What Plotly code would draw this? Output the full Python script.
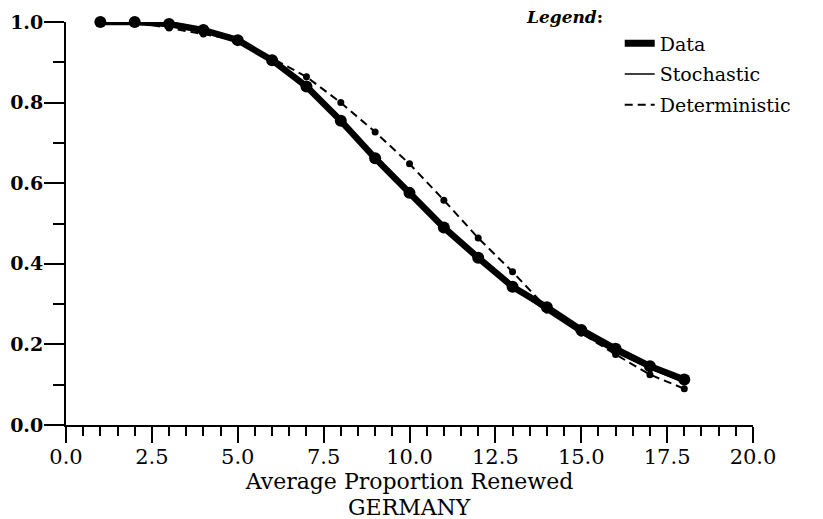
import plotly.graph_objects as go

x_vals = [1, 2, 3, 4, 5, 6, 7, 8, 9, 10, 11, 12, 13, 14, 15, 16, 17, 18]
data_y = [1.0, 1.0, 0.995, 0.98, 0.955, 0.905, 0.84, 0.755, 0.662, 0.576, 0.49, 0.415, 0.343, 0.292, 0.236, 0.189, 0.146, 0.113]
stoch_y = [1.0, 0.998, 0.99, 0.975, 0.952, 0.903, 0.836, 0.75, 0.658, 0.57, 0.488, 0.414, 0.34, 0.282, 0.226, 0.18, 0.14, 0.105]
determ_y = [1.0, 1.0, 0.985, 0.97, 0.955, 0.91, 0.864, 0.8, 0.727, 0.648, 0.558, 0.464, 0.38, 0.29, 0.228, 0.175, 0.125, 0.09]

x_ticks = [0.0, 2.5, 5.0, 7.5, 10.0, 12.5, 15.0, 17.5, 20.0]
x_tick_labels = ["0.0", "2.5", "5.0", "7.5", "10.0", "12.5", "15.0", "17.5", "20.0"]
y_ticks = [0.0, 0.2, 0.4, 0.6, 0.8, 1.0]
y_tick_labels = ["0.0", "0.2", "0.4", "0.6", "0.8", "1.0"]

FONT = "DejaVu Serif"

fig = go.Figure()
fig.add_trace(go.Scatter(x=x_vals, y=determ_y, mode="lines+markers",
                         line=dict(color="black", width=2, dash="8px,5px"),
                         marker=dict(color="black", size=7), showlegend=False, cliponaxis=False))
fig.add_trace(go.Scatter(x=x_vals, y=stoch_y, mode="lines+markers",
                         line=dict(color="black", width=1.5),
                         marker=dict(color="black", size=5), showlegend=False, cliponaxis=False))
fig.add_trace(go.Scatter(x=x_vals, y=data_y, mode="lines+markers",
                         line=dict(color="black", width=6.5),
                         marker=dict(color="black", size=12), showlegend=False, cliponaxis=False))

# legend entries (lines only)
fig.add_trace(go.Scatter(x=[None], y=[None], mode="lines", name="Data",
                         line=dict(color="black", width=7), legendgroup="a"))
fig.add_trace(go.Scatter(x=[None], y=[None], mode="lines", name="Stochastic",
                         line=dict(color="black", width=1.5), legendgroup="b"))
fig.add_trace(go.Scatter(x=[None], y=[None], mode="lines", name="Deterministic",
                         line=dict(color="black", width=2, dash="8px,5px"), legendgroup="c"))

fig.update_layout(
    width=815, height=511,
    margin=dict(l=58, r=70, t=14, b=94, autoexpand=False),
    paper_bgcolor="white", plot_bgcolor="white",
    font=dict(family=FONT, color="black", size=20),
    showlegend=True,
    legend=dict(x=0.806, y=0.994, xanchor="left", yanchor="top",
                font=dict(family=FONT, size=19, color="black"),
                tracegroupgap=3, bgcolor="rgba(0,0,0,0)"),
    xaxis=dict(range=[0, 20], tickvals=x_ticks, ticktext=x_tick_labels, automargin=False,
               showgrid=False, zeroline=False, showline=True, linecolor="black", linewidth=2,
               ticks="outside", ticklen=16, tickwidth=2, tickcolor="black",
               minor=dict(dtick=0.5, ticks="outside", ticklen=9, tickwidth=2, tickcolor="black"),
               tickfont=dict(family=FONT, size=21), ticklabelstandoff=-4,
               title=dict(text="Average Proportion Renewed", font=dict(family=FONT, size=22), standoff=0)),
    yaxis=dict(range=[0, 1], tickvals=y_ticks, ticktext=y_tick_labels, automargin=False,
               showgrid=False, zeroline=False, showline=True, linecolor="black", linewidth=2,
               ticks="outside", ticklen=20, tickwidth=2, tickcolor="black",
               minor=dict(dtick=0.1, ticks="outside", ticklen=11, tickwidth=2, tickcolor="black"),
               tickfont=dict(family=FONT, size=19, weight="bold"), ticklabelstandoff=-3),
    annotations=[
        dict(text="GERMANY", xref="paper", yref="paper", x=0.5, y=-0.204, yanchor="middle",
             showarrow=False, font=dict(family=FONT, size=22)),
        dict(text="<b><i>Legend</i>:</b>", xref="paper", yref="paper", x=0.666, y=1.012,
             xanchor="left", yanchor="middle",
             showarrow=False, font=dict(family=FONT, size=17)),
    ],
)

fig.write_html("out.html")
